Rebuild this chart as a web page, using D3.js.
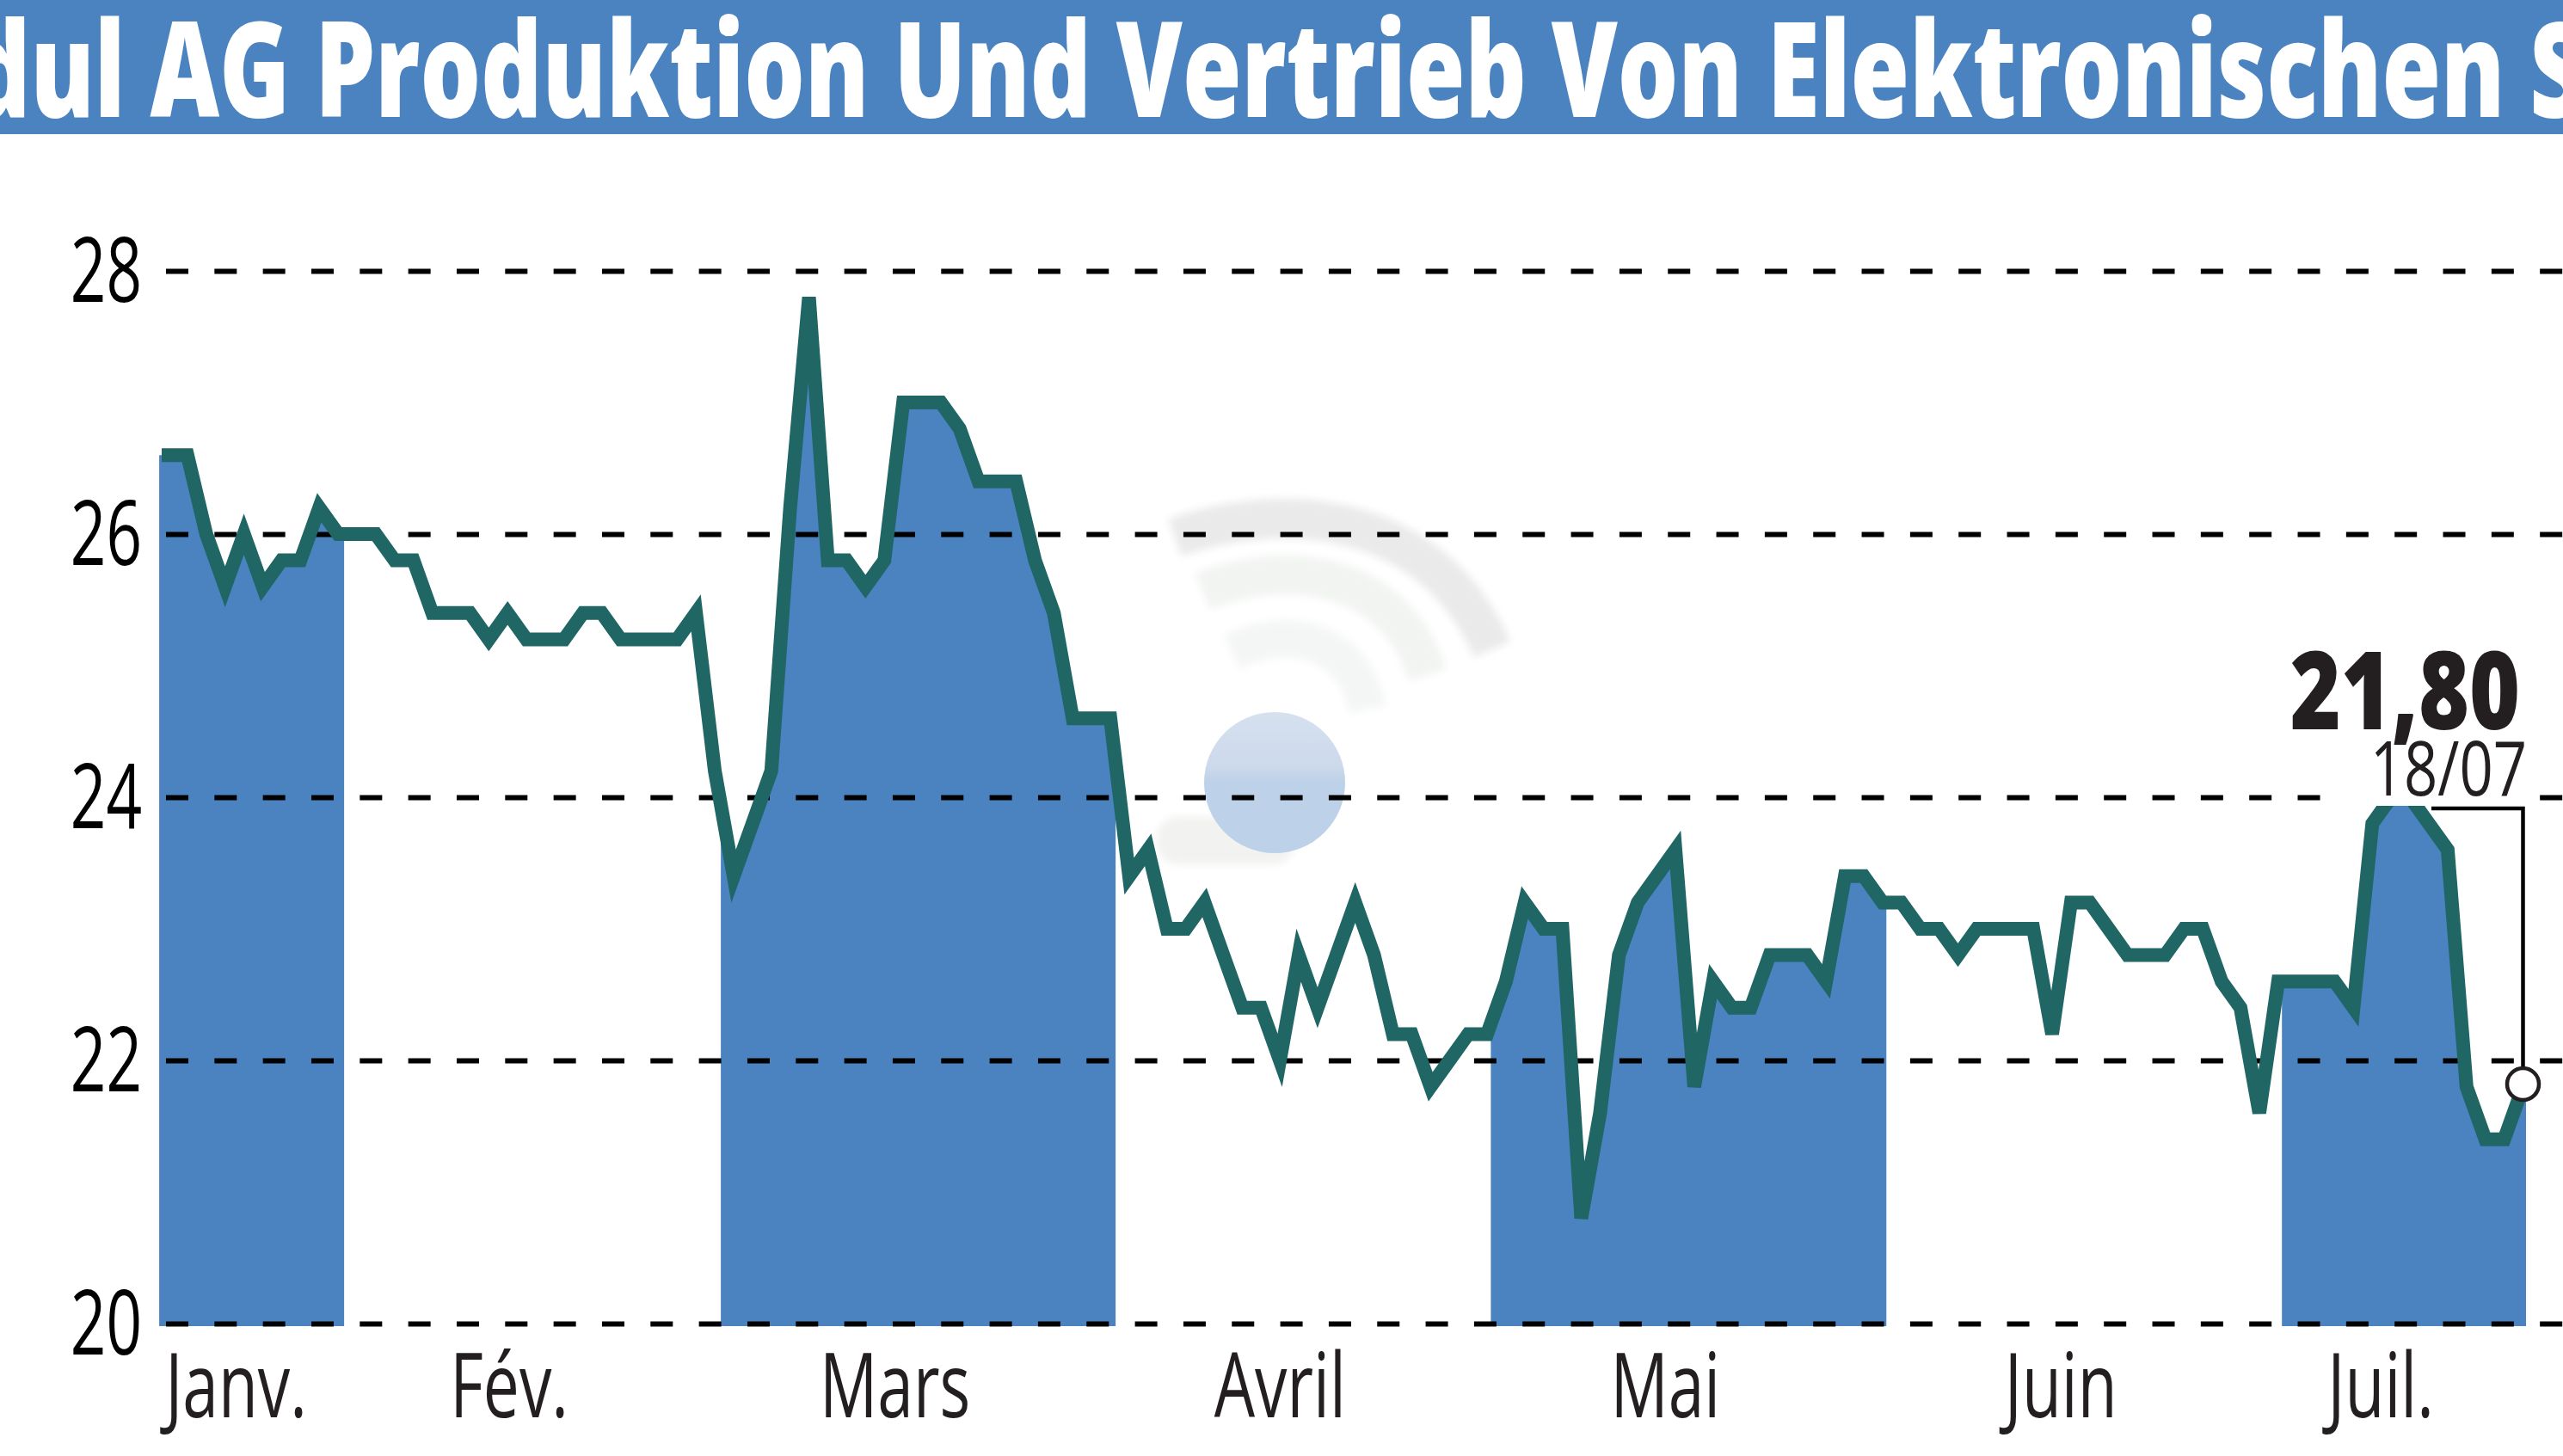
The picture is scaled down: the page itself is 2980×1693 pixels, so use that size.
<!DOCTYPE html>
<html>
<head>
<meta charset="utf-8">
<script src="https://cdn.jsdelivr.net/npm/d3@7"></script>
<style>
	html, body { margin: 0; background: #fff; overflow: hidden; }
	text { font-family: "Open Sans", sans-serif; }
</style>
</head>
<body>
<script>
//closing price per trading day, january to 18/07
var janValues = [26.6, 26.6, 26.0, 25.6, 26.0, 25.6, 25.8, 25.8, 26.2, 26.0];
var febValues = [26.0, 26.0, 25.8, 25.8, 25.4, 25.4, 25.4, 25.2, 25.4, 25.2, 25.2, 25.2, 25.4, 25.4, 25.2, 25.2, 25.2, 25.2, 25.4, 24.2];
var marValues = [23.4, 23.8, 24.2, 26.2, 27.8, 25.8, 25.8, 25.6, 25.8, 27.0, 27.0, 27.0, 26.8, 26.4, 26.4, 26.4, 25.8, 25.4, 24.6, 24.6, 24.6];
var aprValues = [23.4, 23.6, 23.0, 23.0, 23.2, 22.8, 22.4, 22.4, 22.0, 22.8, 22.4, 22.8, 23.2, 22.8, 22.2, 22.2, 21.8, 22.0, 22.2, 22.2];
var mayValues = [22.6, 23.2, 23.0, 23.0, 20.8, 21.6, 22.8, 23.2, 23.4, 23.6, 21.8, 22.6, 22.4, 22.4, 22.8, 22.8, 22.8, 22.6, 23.4, 23.4, 23.2];
var junValues = [23.2, 23.0, 23.0, 22.8, 23.0, 23.0, 23.0, 23.0, 22.2, 23.2, 23.2, 23.0, 22.8, 22.8, 22.8, 23.0, 23.0, 22.6, 22.4, 21.6, 22.6];
var julValues = [22.6, 22.6, 22.6, 22.4, 23.8, 24.0, 24.0, 23.8, 23.6, 21.8, 21.4, 21.4, 21.8];
var months = ["Janv.", "Fév.", "Mars", "Avril", "Mai", "Juin", "Juil."];
var monthEdges = [-0.5, 9.32, 29.32, 50.28, 70.2, 91.2, 112.2, 125.16];
var yTicks = [20, 22, 24, 26, 28];
var titleText = "dul AG Produktion Und Vertrieb Von Elektronischen S";
var lastValue = "21,80";
var lastDate = "18/07";

var width = 2980, height = 1693;
var blue = "#4a83c0", lineColor = "#1f6664", ink = "#231f20";

var values = [].concat(janValues, febValues, marValues, aprValues, mayValues, junValues, julValues);
var points = values.map(function(v, i) { return {i: i, v: v}; });
var lastPoint = points[points.length - 1];

var x = d3.scaleLinear().domain([0, values.length - 1]).range([196, 2933.5]);
var y = d3.scaleLinear().domain([20, 28]).range([1539, 315]);

var svg = d3.select("body").append("svg").attr("width", width).attr("height", height).style("display", "block");

//squeezed text, the font of the original is a condensed one
function label(parent, str, px, py, size, squeeze, anchor, weight, fill) {
	return parent.append("text")
		.attr("transform", "translate(" + px + "," + py + ") scale(" + squeeze + ",1)")
		.attr("text-anchor", anchor)
		.attr("font-size", size)
		.attr("font-weight", weight)
		.attr("fill", fill)
		.text(str);
}

var defs = svg.append("defs");
defs.append("filter").attr("id", "soft")
	.append("feGaussianBlur").attr("stdDeviation", 5);
var ballFill = defs.append("linearGradient").attr("id", "ball").attr("x1", 0).attr("y1", 0).attr("x2", 0).attr("y2", 1);
ballFill.append("stop").attr("offset", "0%").attr("stop-color", "#d6e0ef");
ballFill.append("stop").attr("offset", "38%").attr("stop-color", "#cddaec");
ballFill.append("stop").attr("offset", "50%").attr("stop-color", "#bdd1e8");
ballFill.append("stop").attr("offset", "100%").attr("stop-color", "#bdd1e8");

//title banner
svg.append("rect").attr("width", width).attr("height", 156).attr("fill", blue);
label(svg, titleText, -36, 136, 154, 0.721, "start", 800, "#fff");

//logo behind the chart
var logo = svg.append("g").attr("fill", "none");
var waves = logo.append("g").attr("filter", "url(#soft)");
waves.append("path").attr("d", "M1366,625 C1480,585 1660,585 1735,755").attr("stroke", "#e9eae9").attr("stroke-width", 46);
waves.append("path").attr("d", "M1398,688 C1490,650 1620,660 1660,785").attr("stroke", "#f2f4f2").attr("stroke-width", 46);
waves.append("path").attr("d", "M1432,758 C1500,725 1575,745 1590,825").attr("stroke", "#f4f6f5").attr("stroke-width", 44);
waves.append("rect").attr("x", 1345).attr("y", 950).attr("width", 160).attr("height", 55).attr("rx", 24).attr("fill", "#f2f2f1");
logo.append("circle").attr("cx", 1482).attr("cy", 910).attr("r", 82).attr("fill", "url(#ball)");

//filled price area, every second month only
var clip = defs.append("clipPath").attr("id", "bands");
months.forEach(function(m, k) {
	if (k % 2 === 0) {
		clip.append("rect")
			.attr("x", x(monthEdges[k]))
			.attr("width", x(monthEdges[k + 1]) - x(monthEdges[k]))
			.attr("y", 0)
			.attr("height", y(20) + 3);
	}
});

var areaPoints = [{i: monthEdges[0], v: values[0]}].concat(points, [{i: monthEdges[monthEdges.length - 1], v: lastPoint.v}]);
var area = d3.area()
	.x(function(d) { return x(d.i); })
	.y0(y(20) + 3)
	.y1(function(d) { return y(d.v); });

svg.append("path")
	.datum(areaPoints)
	.attr("d", area)
	.attr("fill", blue)
	.attr("clip-path", "url(#bands)");

//dashed grid and y labels
var yAxis = svg.append("g")
	.attr("transform", "translate(193,0)")
	.call(d3.axisRight(y).tickValues(yTicks).tickSize(width - 193).tickFormat(d3.format("d")));
yAxis.select(".domain").remove();
yAxis.selectAll("line")
	.attr("stroke", "#000")
	.attr("stroke-width", 6)
	.attr("stroke-dasharray", "26 30.33");
yAxis.selectAll("text")
	.attr("x", 0)
	.attr("dy", 0)
	.attr("transform", "translate(-28,35) scale(0.7,1)")
	.attr("text-anchor", "end")
	.attr("font-size", 104)
	.attr("font-family", "Open Sans")
	.attr("fill", "#000");

//month labels, centred a little left of their band
var xLabels = svg.append("g");
months.forEach(function(m, k) {
	var centre = (x(monthEdges[k]) + x(monthEdges[k + 1])) / 2 - (k === 0 ? 18 : 27);
	label(xLabels, m, centre, 1648, 104, 0.72, "middle", 400, ink);
});

//price line
var line = d3.line()
	.x(function(d) { return x(d.i); })
	.y(function(d) { return y(d.v); });

svg.append("path")
	.datum(points)
	.attr("d", line)
	.attr("fill", "none")
	.attr("stroke", lineColor)
	.attr("stroke-width", 16)
	.attr("stroke-linejoin", "miter")
	.attr("stroke-linecap", "square");

//white box of the last value, it cuts the top of the line
svg.append("rect").attr("x", 2700).attr("y", 740).attr("width", 250).attr("height", 197).attr("fill", "#fff");
label(svg, lastValue, 2930, 848, 126, 0.8, "end", 800, ink);
label(svg, lastDate, 2938, 925, 87, 0.79, "end", 400, ink);

//callout to the last point
svg.append("path")
	.attr("d", "M2827,940 H" + x(lastPoint.i) + " V" + (y(lastPoint.v) - 18))
	.attr("fill", "none")
	.attr("stroke", "#000")
	.attr("stroke-width", 4.5);
svg.append("circle")
	.attr("cx", x(lastPoint.i))
	.attr("cy", y(lastPoint.v) - 3)
	.attr("r", 18.5)
	.attr("fill", "#fff")
	.attr("stroke", ink)
	.attr("stroke-width", 4.5);
</script>
</body>
</html>
